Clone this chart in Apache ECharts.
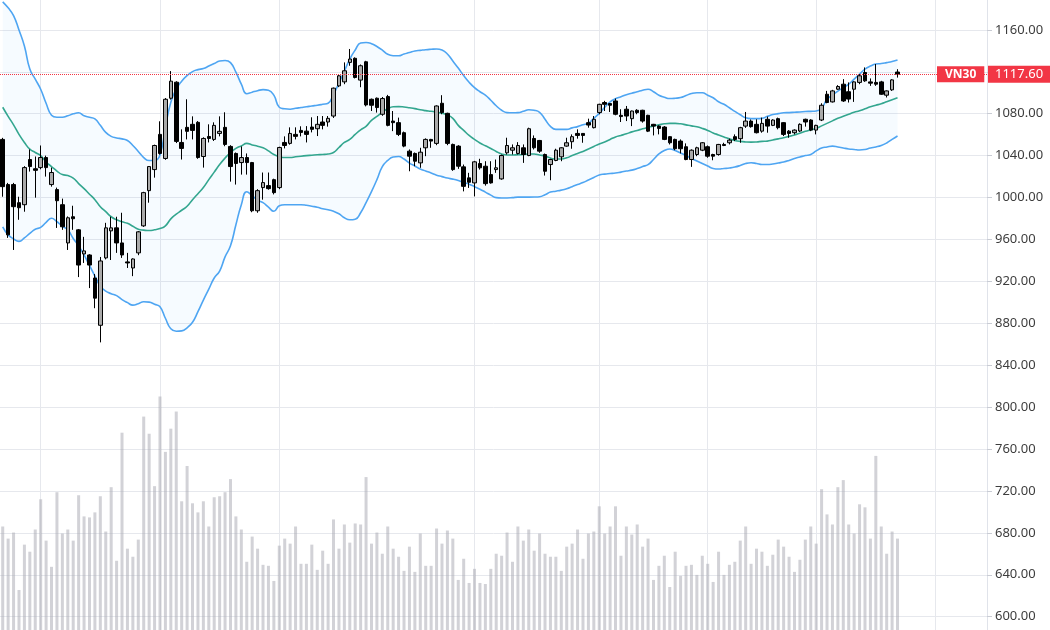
<!DOCTYPE html>
<html>
<head>
<meta charset="utf-8">
<title>VN30</title>
<script src="https://cdn.jsdelivr.net/npm/echarts@6/dist/echarts.min.js"></script>
<style>
  html, body { margin: 0; padding: 0; background: #ffffff; }
  #chart { width: 1050px; height: 630px; }
</style>
</head>
<body>
<div id="chart"></div>
<script>
// daily candles
const opens = [
  1055.5,1012.4,1012.4,995.1,993.2,1036.3,1027.5,1028.6,1038.2,1012.4,
  1007.6,993.2,956.7,981.7,969.2,946.2,945.2,923.2,878.1,942.4,
  968.2,971.1,956.7,938.6,932.8,947.2,973.0,1006.6,1026.7,1060.3,
  1037.3,1094.8,1110.1,1052.6,1067.0,1069.9,1071.8,1039.2,1058.3,1055.5,
  1061.2,1067.0,1048.8,1042.1,1033.4,1038.2,1033.4,987.4,1009.5,1011.4,
  1017.1,1009.5,1052.6,1051.7,1060.3,1064.1,1063.4,1067.3,1065.7,1072.1,
  1072.1,1077.8,1106.6,1110.4,1129.0,1132.9,1112.1,1129.6,1093.8,1094.8,
  1079.5,1096.4,1073.0,1071.5,1061.9,1044.3,1042.1,1033.1,1047.5,1055.5,
  1051.7,1090.0,1080.4,1050.7,1049.1,1029.3,1018.8,1014.0,1032.5,1029.9,
  1021.9,1026.7,1017.8,1042.7,1045.2,1042.1,1047.5,1040.1,1056.4,1054.5,
  1041.1,1031.5,1035.4,1038.9,1049.1,1053.3,1061.2,1061.2,1071.5,1066.7,
  1081.1,1090.7,1089.7,1092.2,1078.5,1084.3,1075.3,1083.3,1083.3,1078.5,
  1069.9,1068.2,1067.3,1058.1,1055.5,1053.9,1048.5,1036.3,1041.1,1045.2,
  1048.5,1041.1,1041.1,1050.7,1052.3,1058.1,1056.2,1068.2,1073.0,1069.9,
  1063.4,1074.7,1068.9,1075.3,1071.5,1063.4,1061.9,1063.5,1074.7,1074.0,
  1064.4,1074.0,1098.6,1091.3,1103.4,1108.2,1101.0,1103.4,1109.9,1119.4,
  1110.4,1109.9,1110.4,1097.7,1102.8,1119.8
];
const closes = [
  1010.4,964.4,991.3,990.3,1028.6,1029.6,1026.0,1038.2,1028.6,1023.9,
  997.0,972.1,980.7,979.8,935.6,949.1,935.6,904.0,939.5,971.1,
  971.1,956.7,945.2,937.6,941.4,967.3,1004.7,1029.6,1049.7,1042.1,
  1093.8,1111.1,1053.6,1046.9,1063.2,1064.1,1038.2,1056.4,1056.4,1068.9,
  1063.2,1050.7,1029.6,1032.5,1038.2,1033.4,987.4,1006.6,1014.3,1008.5,
  1004.7,1047.8,1049.7,1061.2,1058.4,1062.2,1060.3,1065.1,1069.9,1068.9,
  1075.6,1104.4,1116.2,1121.0,1132.2,1114.6,1125.8,1088.4,1088.1,1085.9,
  1094.5,1068.9,1071.5,1060.3,1049.1,1039.5,1034.7,1043.3,1055.5,1053.9,
  1087.4,1081.1,1051.7,1026.7,1029.9,1010.7,1014.6,1034.1,1028.4,1013.3,
  1014.0,1028.4,1040.1,1049.7,1047.5,1049.7,1041.1,1065.7,1047.5,1044.3,
  1025.1,1036.3,1045.2,1047.5,1052.3,1058.1,1059.3,1059.3,1069.2,1074.7,
  1089.0,1089.0,1088.1,1079.5,1077.3,1077.8,1082.6,1081.1,1073.0,1063.4,
  1068.2,1066.0,1055.5,1052.3,1046.6,1046.6,1036.3,1045.2,1047.5,1052.3,
  1039.5,1039.5,1050.7,1049.7,1054.8,1055.5,1066.7,1073.0,1067.7,1061.9,
  1070.8,1068.2,1074.0,1066.7,1060.3,1061.2,1064.4,1069.9,1072.1,1064.4,
  1068.9,1088.1,1090.7,1101.8,1106.0,1092.2,1094.0,1110.4,1116.2,1111.4,
  1109.2,1108.2,1098.6,1101.8,1112.3,1117.6
];
const lows = [
  1000.8,961.5,950.0,978.8,986.5,1024.8,999.9,1027.0,1020.0,1010.4,
  971.0,969.2,950.0,969.2,924.1,937.6,913.6,894.4,861.8,941.0,
  940.4,947.2,942.4,932.8,925.0,945.0,972.0,995.1,1019.0,1041.0,
  1036.0,1093.5,1052.0,1036.3,1055.5,1055.5,1037.0,1028.6,1052.6,1054.0,
  1058.4,1049.0,1015.2,1012.4,1021.9,1021.9,986.0,985.5,998.0,1007.5,
  1003.0,1008.0,1046.9,1050.5,1055.5,1058.4,1052.6,1062.2,1058.7,1065.1,
  1067.7,1076.0,1105.4,1108.2,1125.8,1113.7,1105.3,1087.0,1082.6,1081.1,
  1078.0,1068.0,1063.4,1058.7,1048.0,1025.1,1029.9,1028.4,1039.5,1047.5,
  1050.0,1079.5,1050.0,1025.5,1027.4,1005.9,1009.2,1001.1,1026.7,1011.4,
  1013.3,1023.6,1017.0,1041.1,1041.1,1041.1,1033.1,1039.5,1045.9,1042.7,
  1021.0,1016.5,1034.7,1034.7,1048.5,1046.6,1056.2,1052.3,1066.7,1066.0,
  1079.5,1082.6,1081.7,1078.5,1072.1,1073.0,1068.2,1079.5,1071.5,1062.5,
  1059.3,1060.3,1054.8,1050.7,1045.2,1042.1,1035.6,1029.3,1039.5,1044.3,
  1038.0,1035.6,1040.0,1049.1,1050.7,1053.9,1052.3,1066.5,1066.7,1061.2,
  1061.9,1061.9,1068.2,1065.1,1058.7,1057.1,1060.3,1062.5,1067.7,1063.4,
  1060.3,1073.0,1090.0,1090.7,1102.8,1091.3,1090.7,1091.3,1108.2,1110.4,
  1106.6,1106.6,1098.0,1095.5,1101.8,1114.5
];
const highs = [
  1057.0,1014.0,1014.0,1000.8,1030.0,1045.9,1039.2,1049.7,1040.0,1028.6,
  1009.5,999.0,982.0,992.2,970.0,962.5,946.0,927.0,943.3,975.9,
  981.7,981.7,985.5,947.2,942.0,968.0,1005.5,1030.0,1050.5,1072.8,
  1095.0,1120.7,1111.0,1065.1,1093.8,1077.5,1073.0,1057.5,1069.9,1071.8,
  1077.5,1081.4,1050.0,1043.0,1048.8,1042.1,1034.0,1008.0,1023.9,1023.9,
  1018.0,1048.5,1058.4,1067.0,1067.0,1068.0,1068.2,1076.6,1077.8,1077.8,
  1077.8,1105.0,1117.8,1129.0,1141.8,1133.8,1127.0,1130.5,1094.5,1095.5,
  1096.0,1098.0,1082.6,1076.3,1063.0,1045.9,1043.0,1047.5,1056.5,1056.0,
  1088.0,1097.7,1081.0,1051.5,1050.0,1031.5,1023.6,1035.0,1037.0,1034.7,
  1034.7,1036.3,1041.0,1057.1,1050.7,1052.9,1050.7,1066.7,1059.3,1055.0,
  1042.0,1037.0,1046.6,1048.0,1057.1,1060.3,1065.1,1061.5,1075.3,1077.8,
  1089.5,1092.3,1090.0,1094.5,1084.3,1087.4,1083.0,1084.3,1083.8,1079.0,
  1070.3,1068.9,1068.2,1058.7,1056.2,1055.5,1051.7,1046.0,1048.5,1053.0,
  1049.7,1041.8,1051.2,1052.3,1056.2,1060.3,1067.5,1081.7,1074.5,1074.7,
  1076.3,1077.3,1074.7,1076.3,1072.0,1064.4,1065.1,1070.8,1075.3,1074.7,
  1069.5,1090.0,1101.8,1102.8,1107.3,1113.0,1109.9,1111.0,1117.8,1124.2,
  1113.7,1127.4,1111.4,1102.3,1113.0,1122.5
];
// volume, in px-sized units (no scale shown on the chart)
const volumes = [
  131,119,125,68,113,106,128,158,117,91,
  165,124,128,117,162,141,140,145,161,126,
  170,97,224,109,101,118,240,223,171,260,
  205,228,245,156,191,154,145,156,131,160,
  161,165,178,141,128,96,121,109,93,92,
  77,112,119,114,131,94,94,113,88,107,
  94,138,109,133,115,134,133,180,114,125,
  104,131,109,101,87,111,86,124,92,92,
  129,114,127,119,78,99,75,89,75,74,
  89,104,102,125,96,131,117,128,107,124,
  104,101,101,87,111,114,128,99,124,126,
  151,124,131,151,102,131,123,133,111,119,
  78,92,102,71,106,82,92,93,83,102,
  94,76,106,83,93,96,117,131,94,109,
  106,92,103,118,111,101,86,98,118,131,
  114,168,143,133,170,177,133,124,153,150,
  119,201,131,104,126,119
];
// bollinger bands as drawn
const bbUpper = [
  1186.8,1181.1,1173.7,1160.0,1144.7,1122.6,1113.0,1103.4,1090.0,1078.5,
  1076.6,1076.6,1078.0,1079.9,1080.9,1078.0,1076.6,1075.1,1068.9,1062.2,
  1058.4,1056.9,1056.0,1054.5,1049.7,1044.0,1038.2,1035.3,1035.3,1040.6,
  1067.0,1091.0,1103.4,1111.1,1116.4,1120.2,1122.1,1123.1,1125.5,1127.9,
  1130.3,1130.8,1128.8,1119.7,1108.2,1099.1,1100.6,1102.0,1103.0,1102.5,
  1097.7,1086.2,1084.7,1084.3,1085.2,1085.9,1086.6,1087.4,1088.1,1089.0,
  1090.0,1098.6,1109.2,1120.7,1132.2,1140.8,1147.5,1148.0,1146.9,1144.2,
  1140.8,1136.7,1135.4,1135.4,1137.0,1138.4,1139.9,1140.5,1141.1,1141.5,
  1141.8,1140.8,1137.0,1130.3,1123.6,1116.4,1110.1,1104.9,1101.0,1097.7,
  1092.9,1087.6,1083.3,1081.1,1080.9,1081.1,1082.3,1083.8,1083.3,1081.4,
  1074.7,1068.0,1065.1,1065.1,1065.1,1066.5,1067.7,1069.4,1071.1,1075.6,
  1080.4,1086.2,1091.4,1094.3,1096.2,1098.2,1099.6,1101.0,1102.5,1103.4,
  1101.0,1097.7,1095.8,1094.5,1094.8,1095.5,1097.4,1099.3,1100.1,1100.1,
  1097.7,1095.3,1091.4,1089.0,1085.7,1082.3,1079.0,1076.1,1075.3,1075.3,
  1075.6,1077.5,1079.2,1080.1,1080.9,1081.1,1081.4,1081.7,1082.1,1082.3,
  1082.6,1085.2,1093.8,1097.7,1101.5,1104.9,1108.2,1113.0,1117.8,1122.6,
  1125.5,1127.4,1127.9,1128.8,1129.8,1131.2
];
const bbMiddle = [
  1086.2,1077.5,1069.4,1060.3,1052.6,1046.2,1043.0,1040.1,1033.9,1029.6,
  1025.3,1021.9,1021.0,1018.6,1013.3,1008.5,1003.2,998.0,991.3,986.5,
  981.7,978.8,976.9,975.4,972.6,969.7,968.9,968.5,969.2,970.4,
  973.0,979.7,984.1,987.9,991.7,998.0,1003.7,1009.5,1017.1,1024.3,
  1031.5,1037.7,1043.0,1046.9,1049.3,1051.7,1050.2,1049.0,1047.5,1044.5,
  1041.1,1039.2,1038.2,1038.2,1038.9,1039.5,1040.0,1040.4,1040.8,1041.1,
  1041.6,1043.0,1047.8,1052.6,1055.5,1060.3,1064.6,1067.9,1073.7,1077.5,
  1081.4,1084.7,1086.6,1086.8,1086.4,1085.7,1084.9,1083.8,1083.0,1082.3,
  1081.4,1080.4,1079.0,1075.6,1068.9,1064.1,1059.3,1055.5,1052.1,1049.4,
  1046.9,1044.0,1041.6,1040.6,1040.6,1040.8,1041.1,1041.6,1041.6,1040.6,
  1039.7,1037.7,1036.8,1036.8,1037.9,1040.1,1042.1,1044.0,1046.4,1048.8,
  1051.2,1053.1,1055.5,1057.9,1059.3,1060.8,1062.7,1064.1,1065.6,1067.0,
  1068.4,1069.4,1070.4,1070.8,1070.8,1070.4,1069.4,1068.4,1067.5,1066.0,
  1064.1,1061.7,1059.8,1057.9,1056.0,1054.5,1053.6,1053.1,1052.9,1053.1,
  1053.6,1053.9,1055.0,1056.0,1057.1,1058.4,1059.8,1061.3,1063.2,1064.6,
  1066.0,1068.4,1070.8,1073.2,1075.6,1077.5,1079.5,1081.4,1082.8,1084.7,
  1086.6,1088.1,1089.5,1091.4,1093.4,1095.3
];
const bbLower = [
  972.1,964.4,960.6,958.2,961.5,965.8,969.7,971.6,976.4,980.2,
  976.9,972.6,969.2,961.0,953.9,945.2,935.2,925.1,915.5,910.7,
  908.3,906.4,902.6,899.7,897.3,898.7,900.5,900.2,898.2,895.8,
  884.8,874.7,872.4,872.8,875.7,881.0,891.1,902.1,912.6,923.2,
  929.9,943.4,953.9,974.0,993.2,1005.6,1001.8,997.5,995.1,990.8,
  986.9,992.2,993.2,993.2,993.2,993.2,992.7,991.7,990.8,989.3,
  988.4,986.9,984.5,980.7,978.8,979.3,985.5,995.1,1005.6,1017.1,
  1029.6,1035.4,1038.7,1039.2,1036.8,1032.9,1030.1,1027.2,1025.3,1023.4,
  1021.4,1020.0,1018.6,1017.6,1016.2,1014.3,1012.8,1010.4,1008.0,1005.2,
  1002.3,999.9,999.6,999.6,999.9,1000.4,1000.4,1000.4,1000.5,1000.8,
  1002.7,1005.2,1006.1,1007.1,1008.5,1010.4,1012.4,1014.3,1016.7,1019.1,
  1021.5,1022.4,1022.9,1023.4,1024.3,1025.3,1026.2,1027.7,1029.6,1031.5,
  1036.3,1041.6,1044.9,1046.4,1044.9,1042.5,1040.1,1037.3,1034.9,1032.5,
  1030.1,1027.7,1027.2,1027.7,1028.2,1029.1,1030.6,1032.5,1033.2,1032.5,
  1031.5,1031.5,1032.0,1033.0,1033.9,1035.4,1037.3,1038.7,1040.1,1041.1,
  1044.5,1047.3,1048.3,1049.1,1048.3,1047.3,1046.4,1045.9,1045.4,1045.9,
  1047.3,1048.3,1049.7,1052.1,1055.5,1058.8
];
const monthStarts = [7, 29, 51, 87, 110, 130, 150, 172]; // vertical grid lines
const lastPrice = 1117.6;
const symbol = 'VN30';
const slotCount = 182; // trading days + empty space on the right

const days = [];
for (let i = 0; i < slotCount; i++) days.push(String(i));
const candles = opens.map((o, i) => [o, closes[i], lows[i], highs[i]]);
const bbSpread = bbUpper.map((u, i) => +(u - bbLower[i]).toFixed(2));

const chart = echarts.init(document.getElementById('chart'));
const bandLine = { color: '#4ea5f2', width: 1.6 };

chart.setOption({
  animation: false,
  backgroundColor: '#ffffff',
  grid: { left: 0, right: 63, top: -12, bottom: -28.6, containLabel: false, outerBoundsMode: 'none' },
  xAxis: {
    type: 'category',
    data: days,
    boundaryGap: true,
    axisLine: { show: false },
    axisTick: { show: false },
    axisLabel: { show: false },
    splitLine: {
      show: true,
      alignWithLabel: true,
      interval: (idx) => monthStarts.indexOf(idx) >= 0,
      lineStyle: { color: '#e6e8ed', width: 1 }
    }
  },
  yAxis: [
    {
      type: 'value',
      position: 'right',
      min: 560,
      max: 1200,
      interval: 40,
      axisLine: { show: true, lineStyle: { color: '#e0e3ea' } },
      axisTick: { show: true, length: 5, lineStyle: { color: '#c9ccd4' } },
      axisLabel: {
        color: '#3d3d3d',
        fontSize: 13,
        fontFamily: 'Noto Sans',
        margin: 8,
        formatter: (v) => v.toFixed(2)
      },
      splitLine: { show: true, lineStyle: { color: '#e6e8ed', width: 1 } }
    },
    { type: 'value', min: 0, max: 665, show: false }
  ],
  series: [
    {
      name: 'Volume',
      type: 'bar',
      yAxisIndex: 1,
      data: volumes,
      barWidth: 3,
      silent: true,
      itemStyle: { color: 'rgba(165,165,176,0.5)' },
      z: 1
    },
    {
      name: 'BB lower',
      type: 'line',
      stack: 'bb',
      data: bbLower,
      smooth: true,
      showSymbol: false,
      symbol: 'none',
      lineStyle: bandLine,
      z: 2
    },
    {
      name: 'BB fill',
      type: 'line',
      stack: 'bb',
      data: bbSpread,
      smooth: true,
      showSymbol: false,
      symbol: 'none',
      lineStyle: { opacity: 0 },
      areaStyle: { color: 'rgba(33,150,243,0.055)' },
      z: 2
    },
    {
      name: 'BB upper',
      type: 'line',
      data: bbUpper,
      smooth: true,
      showSymbol: false,
      symbol: 'none',
      lineStyle: bandLine,
      z: 2
    },
    {
      name: 'BB basis',
      type: 'line',
      data: bbMiddle,
      smooth: true,
      showSymbol: false,
      symbol: 'none',
      lineStyle: { color: '#33a68f', width: 1.6 },
      z: 2
    },
    {
      name: symbol,
      type: 'candlestick',
      data: candles,
      barWidth: 4,
      itemStyle: {
        color: '#aaaaaa',
        color0: '#000000',
        borderColor: '#000000',
        borderColor0: '#000000',
        borderWidth: 1
      },
      z: 3,
      markLine: {
        silent: true,
        symbol: ['none', 'none'],
        animation: false,
        lineStyle: { color: '#f23645', type: 'dotted', width: 1 },
        data: [
          {
            yAxis: lastPrice,
            label: {
              show: true,
              position: 'end',
              distance: 1,
              formatter: lastPrice.toFixed(2),
              color: '#ffffff',
              backgroundColor: '#f23645',
              fontSize: 13,
              fontFamily: 'Noto Sans',
              padding: [2, 7, 2, 7]
            }
          },
          {
            yAxis: lastPrice,
            label: {
              show: true,
              position: 'end',
              distance: -50,
              formatter: symbol,
              color: '#ffffff',
              backgroundColor: '#f23645',
              fontSize: 12,
              fontWeight: 'bold',
              fontFamily: 'Noto Sans',
              padding: [2, 8, 2, 8]
            }
          }
        ]
      }
    }
  ]
});
</script>
</body>
</html>
